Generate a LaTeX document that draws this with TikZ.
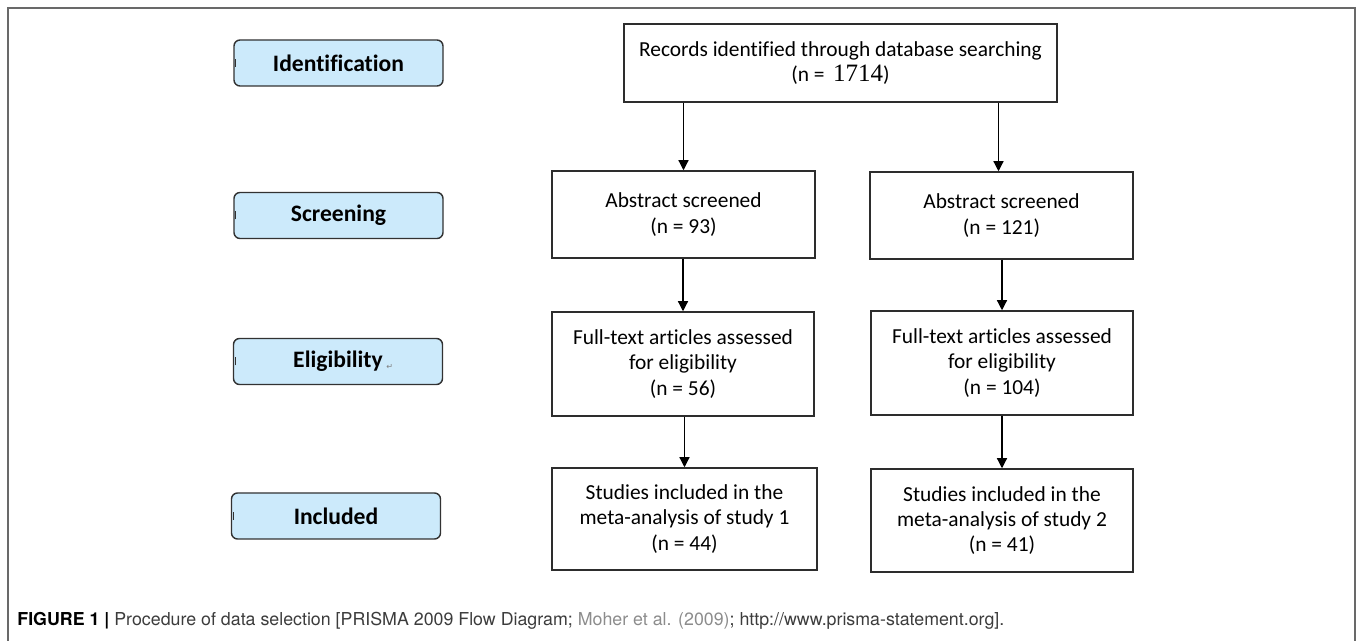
\documentclass[tikz,border=0pt]{standalone}
\usepackage{fontspec}
\setmainfont{Carlito}[Ligatures=NoCommon]
\newfontfamily\capfont{TeX Gyre Heros}
\newfontfamily\numfont{Liberation Serif}
\newfontfamily\symfont{DejaVu Sans}
\usetikzlibrary{arrows.meta}

\definecolor{stagefill}{RGB}{204,234,251}
\definecolor{stageline}{RGB}{50,50,50}
\definecolor{boxline}{RGB}{45,45,45}
\definecolor{framegray}{RGB}{105,105,105}
\definecolor{captext}{RGB}{60,60,60}
\definecolor{caplink}{RGB}{140,140,140}

\tikzset{
	stage/.style={draw=stageline, fill=stagefill, rounded corners=3pt, line width=0.7pt,
		minimum width=104.5pt, minimum height=23pt, inner sep=0pt,
		font=\fontsize{11.8}{14}\selectfont\bfseries},
	flowbox/.style={draw=boxline, line width=0.75pt, align=center, inner sep=0pt,
		font=\fontsize{10.7}{12.7}\selectfont},
	flowarrow/.style={-{Triangle[length=5pt,width=5pt]}, line width=0.6pt},
}

\begin{document}
\begin{tikzpicture}[x=0.5pt,y=-0.5pt]
	\useasboundingbox (0,0) rectangle (1357,641);
	
	% Frame
	\coordinate (FL) at (8,641);
	\coordinate (TL) at (8,8);
	\coordinate (TR) at (1355,8);
	\coordinate (FR) at (1355,641);
	\draw[framegray, line width=0.75pt] (FL) -- (TL) -- (TR) -- (FR);
	
	% Stages
	\node[stage] (ident)  at (338.5,63)  {Identification};
	\node[stage] (screen) at (338.5,215.5) {Screening};
	\node[stage] (elig)   at (338,361.5) {Eligibility};
	\node[stage] (incl)   at (336,516)   {Included};
	\node[anchor=base west, inner sep=0pt, text=gray, font=\symfont\fontsize{4}{4}\selectfont] (eligmark) at (386,370) {↵};
	
	\foreach \s in {ident, screen, elig, incl} {
		\draw[stageline, line width=0.4pt] ([xshift=1.2pt,yshift=-2pt]\s.west) -- ([xshift=1.2pt,yshift=2pt]\s.west);
	}
	
	% Boxes
	\node[flowbox, minimum width=216.5pt, minimum height=39pt] (rec) at (840.5,63)
		{Records identified through database searching\\(n = \,{\numfont\fontsize{12.5}{12.7}\selectfont 1714})};
	\node[flowbox, minimum width=131.5pt, minimum height=43.5pt] (absL) at (683.5,214.5)
		{Abstract screened\\(n = 93)};
	\node[flowbox, minimum width=131.5pt, minimum height=43.5pt] (absR) at (1001.5,215.5)
		{Abstract screened\\(n = 121)};
	\node[flowbox, minimum width=131pt, minimum height=52pt] (fullL) at (683,364)
		{Full-text articles assessed\\for eligibility\\(n = 56)};
	\node[flowbox, minimum width=131pt, minimum height=52pt] (fullR) at (1002,363)
		{Full-text articles assessed\\for eligibility\\(n = 104)};
	\node[flowbox, minimum width=132.5pt, minimum height=51pt] (studL) at (684.5,519)
		{Studies included in the\\meta-analysis of study 1\\(n = 44)};
	\node[flowbox, minimum width=131pt, minimum height=51.5pt] (studR) at (1002,520.5)
		{Studies included in the\\meta-analysis of study 2\\(n = 41)};
	
	% Arrows
	\draw[flowarrow] (absL.north |- rec.south) -- (absL.north);
	\draw[flowarrow] ([xshift=-1.5pt]absR.north |- rec.south) -- ([xshift=-1.5pt]absR.north);
	\foreach \a/\b in {absL/fullL, absR/fullR, fullL/studL, fullR/studR} {
		\draw[flowarrow] (\b.north |- \a.south) -- (\b.north);
	}
	
	% Caption
	\node[anchor=base west, inner sep=0pt, text=captext, font=\capfont\fontsize{8.9}{10}\selectfont] (caption) at (17,626)
		{{\color{black}\bfseries FIGURE 1 |} Procedure of data selection [PRISMA 2009 Flow Diagram; {\color{caplink}Moher et al. (2009)}; http://www.prisma-statement.org].};
\end{tikzpicture}
\end{document}
